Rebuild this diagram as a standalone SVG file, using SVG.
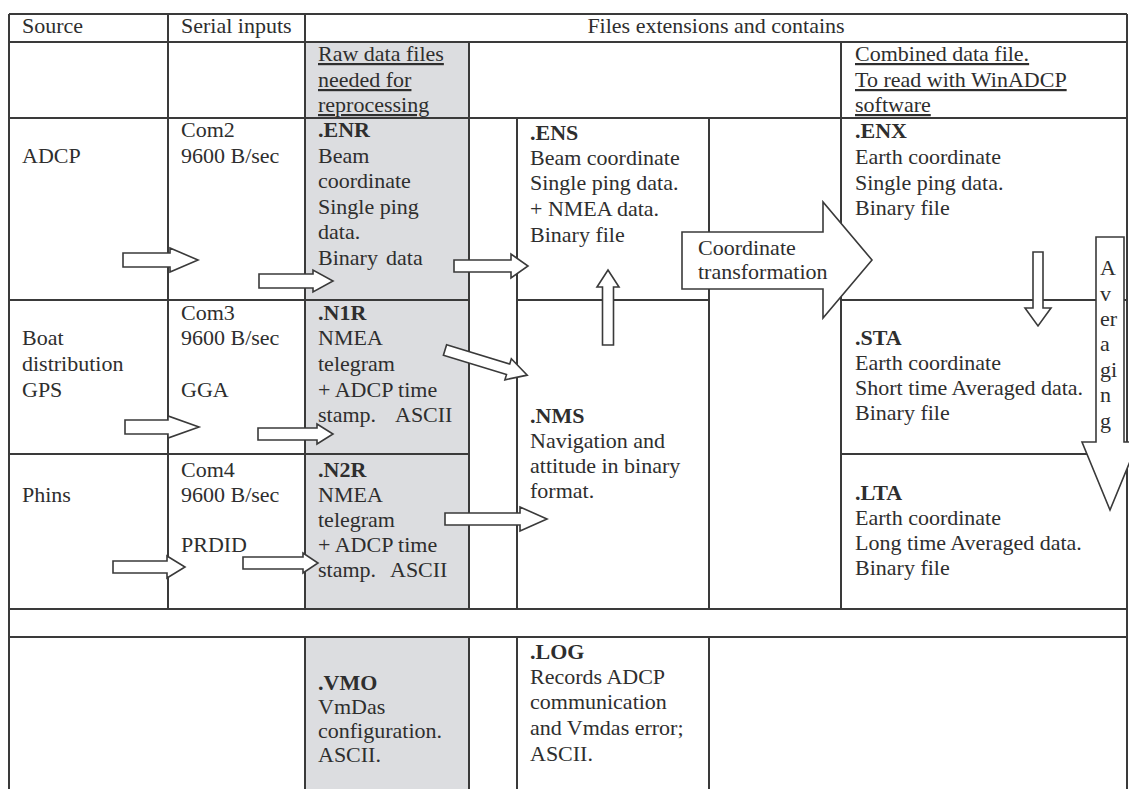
<svg xmlns="http://www.w3.org/2000/svg" width="1129" height="789" viewBox="0 0 1129 789">
<style>
.t{font-family:"Liberation Serif","Times New Roman",serif;font-size:22px;fill:#2e2e2e}
.b{font-weight:bold}
.u{text-decoration:underline}
.ln{stroke:#3a3a3a;stroke-width:2;fill:none}
.ar{fill:#fff;stroke:#3a3a3a;stroke-width:1.6;stroke-linejoin:miter}
.gray{fill:#dcdde0}
</style>
<rect x="0" y="0" width="1129" height="789" fill="#fff"/>
<g id="grid">
<rect class="gray" x="305" y="42" width="164" height="567"/>
<rect class="gray" x="305" y="637" width="164" height="152"/>
<path class="ln" d="M9,14H1127 M9,42H1127 M9,118H1127 M9,300H469 M517,300H709 M841,300H1127 M9,454H469 M841,454H1127 M9,609H1127 M9,637H1127 M9,14V789 M1127,14V789 M168,14V609 M305,14V609 M305,637V789 M469,42V609 M469,637V789 M517,118V609 M517,637V789 M709,118V609 M709,637V789 M841,42V609"/>
</g>
<g id="header" class="t">
<text x="22" y="33">Source</text>
<text x="181" y="33">Serial inputs</text>
<text x="716" y="33" text-anchor="middle">Files extensions and contains</text>
</g>
<g id="raw-note" class="t u">
<text x="318" y="61">Raw data files</text>
<text x="318" y="87">needed for</text>
<text x="318" y="112">reprocessing</text>
</g>
<g id="combined-note" class="t u">
<text x="855" y="61">Combined data file.</text>
<text x="855" y="87">To read with WinADCP</text>
<text x="855" y="112">software</text>
</g>
<g id="adcp" class="t">
<text x="22" y="163">ADCP</text>
<text x="181" y="137">Com2</text>
<text x="181" y="163">9600 B/sec</text>
</g>
<g id="enr" class="t">
<text x="318" y="137" class="b">.ENR</text>
<text x="318" y="163">Beam</text>
<text x="318" y="188">coordinate</text>
<text x="318" y="214">Single ping</text>
<text x="318" y="239">data.</text>
<text x="318" y="265">Binary<tspan x="386">data</tspan></text>
</g>
<g id="ens" class="t">
<text x="530" y="140" class="b">.ENS</text>
<text x="530" y="165">Beam coordinate</text>
<text x="530" y="190">Single ping data.</text>
<text x="530" y="216">+ NMEA data.</text>
<text x="530" y="242">Binary file</text>
</g>
<g id="enx" class="t">
<text x="855" y="138" class="b">.ENX</text>
<text x="855" y="164">Earth coordinate</text>
<text x="855" y="190">Single ping data.</text>
<text x="855" y="215">Binary file</text>
</g>
<g id="gps" class="t">
<text x="22" y="345">Boat</text>
<text x="22" y="371">distribution</text>
<text x="22" y="397">GPS</text>
<text x="181" y="320">Com3</text>
<text x="181" y="345">9600 B/sec</text>
<text x="181" y="397">GGA</text>
</g>
<g id="n1r" class="t">
<text x="318" y="320" class="b">.N1R</text>
<text x="318" y="345">NMEA</text>
<text x="318" y="371">telegram</text>
<text x="318" y="397">+ ADCP time</text>
<text x="318" y="422">stamp.<tspan x="395">ASCII</tspan></text>
</g>
<g id="nms" class="t">
<text x="530" y="423" class="b">.NMS</text>
<text x="530" y="448">Navigation and</text>
<text x="530" y="473">attitude in binary</text>
<text x="530" y="498">format.</text>
</g>
<g id="sta" class="t">
<text x="855" y="345" class="b">.STA</text>
<text x="855" y="370">Earth coordinate</text>
<text x="855" y="395">Short time Averaged data.</text>
<text x="855" y="420">Binary file</text>
</g>
<g id="phins" class="t">
<text x="22" y="502">Phins</text>
<text x="181" y="477">Com4</text>
<text x="181" y="502">9600 B/sec</text>
<text x="181" y="552">PRDID</text>
</g>
<g id="n2r" class="t">
<text x="318" y="477" class="b">.N2R</text>
<text x="318" y="502">NMEA</text>
<text x="318" y="527">telegram</text>
<text x="318" y="552">+ ADCP time</text>
<text x="318" y="577">stamp.<tspan x="390">ASCII</tspan></text>
</g>
<g id="lta" class="t">
<text x="855" y="500" class="b">.LTA</text>
<text x="855" y="525">Earth coordinate</text>
<text x="855" y="550">Long time Averaged data.</text>
<text x="855" y="575">Binary file</text>
</g>
<g id="vmo" class="t">
<text x="318" y="690" class="b">.VMO</text>
<text x="318" y="714">VmDas</text>
<text x="318" y="738">configuration.</text>
<text x="318" y="762">ASCII.</text>
</g>
<g id="log" class="t">
<text x="530" y="659" class="b">.LOG</text>
<text x="530" y="684">Records ADCP</text>
<text x="530" y="709">communication</text>
<text x="530" y="735">and Vmdas error;</text>
<text x="530" y="761">ASCII.</text>
</g>
<g id="connectors">
<polygon class="ar" points="123,253 170,253 170,248 198,260 170,272 170,267 123,267"/>
<polygon class="ar" points="259,274 313,274 313,270 333,281 313,292 313,288 259,288"/>
<polygon class="ar" points="454,260 511,260 511,254 528,266 511,278 511,272 454,272"/>
<polygon class="ar" points="125,420 168,420 168,416 199,427 168,438 168,434 125,434"/>
<polygon class="ar" points="258,428 317,428 317,424 333,434 317,444 317,440 258,440"/>
<polygon class="ar" points="113,561 167,561 167,556 185,567 167,578 167,573 113,573"/>
<polygon class="ar" points="243,557 303,557 303,553 318,563 303,573 303,569 243,569"/>
<polygon class="ar" points="445,513 520,513 520,507 547,519 520,531 520,525 445,525"/>
<polygon class="ar" transform="translate(445,350) rotate(17)" points="0,-5.5 66,-5.5 66,-11 86,0 66,11 66,5.5 0,5.5"/>
<polygon class="ar" points="602.5,345 602.5,287 597,287 608,270 619,287 613.5,287 613.5,345"/>
<polygon class="ar" points="1033,252 1043,252 1043,308 1051,308 1038,326 1025,308 1033,308"/>
<g id="coord-transform">
<polygon class="ar" points="682,232 823,232 823,202 872,260 823,318 823,289 682,289"/>
<text class="t" x="698" y="255">Coordinate</text>
<text class="t" x="698" y="279">transformation</text>
</g>
<g id="averaging">
<polygon class="ar" points="1096,237 1124,237 1124,442 1138,442 1110,510 1082,442 1096,442"/>
<text class="t" x="1100" y="275">A<tspan x="1100" y="301">v</tspan><tspan x="1100" y="326">er</tspan><tspan x="1100" y="351">a</tspan><tspan x="1100" y="377">gi</tspan><tspan x="1100" y="402">n</tspan><tspan x="1100" y="428">g</tspan></text>
</g>
</g>
</svg>
